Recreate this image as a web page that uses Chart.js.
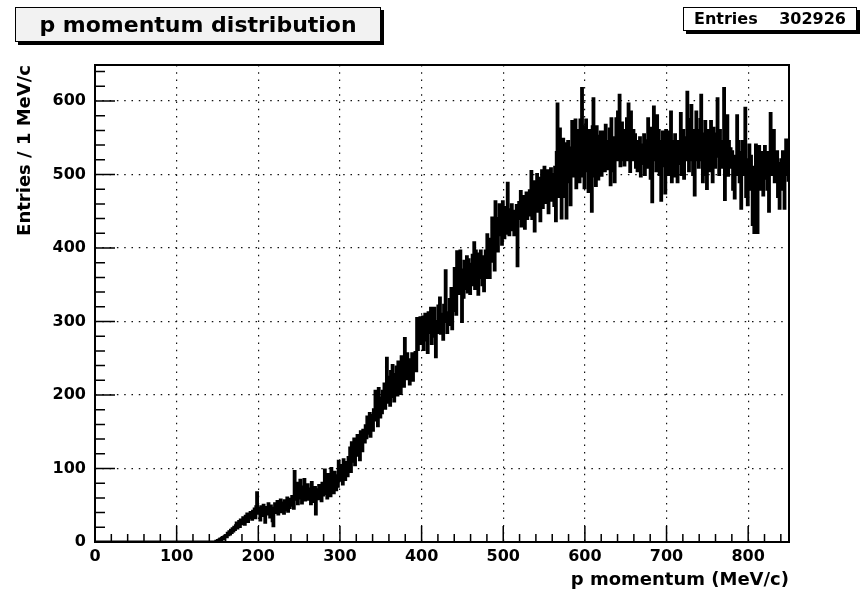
<!DOCTYPE html>
<html>
<head>
<meta charset="utf-8">
<title>p momentum distribution</title>
<script src="https://cdn.jsdelivr.net/npm/chart.js@4.4.1/dist/chart.umd.min.js"></script>
<style>
  html, body { margin: 0; padding: 0; background: #fff; }
  #wrap { position: relative; width: 865px; height: 595px; }
  #momChart { position: absolute; left: 0; top: 0; }
  .pave {
    position: absolute;
    box-sizing: border-box;
    border: 1px solid #000;
    box-shadow: 3px 3px 0 #000;
    font-family: "DejaVu Sans", sans-serif;
    font-weight: bold;
    color: #000;
  }
  #histTitle {
    left: 15px; top: 7px; width: 366px; height: 35px;
    background: #f2f2f2;
    font-size: 22px; line-height: 33px; text-align: center;
  }
  #statsBox {
    left: 683px; top: 7px; width: 174px; height: 24px;
    background: #fff;
    font-size: 16px; line-height: 22px;
    display: flex; justify-content: space-between;
    padding: 0 10px;
  }
</style>
</head>
<body>
<div id="wrap">
  <canvas id="momChart" width="865" height="595" style="width:865px;height:595px;"></canvas>
  <div class="pave" id="histTitle">p momentum distribution</div>
  <div class="pave" id="statsBox"><span>Entries</span><span id="entriesVal"></span></div>
</div>

<script>
// ---- histogram contents: 1 MeV/c bins from 0 to 850 ----
const binWidth = 1;
const entries = 302926;
const counts = [
  0, 0, 0, 0, 0, 0, 0, 0, 0, 0,
  0, 0, 0, 0, 0, 0, 0, 0, 0, 0,
  0, 0, 0, 0, 0, 0, 0, 0, 0, 0,
  0, 0, 0, 0, 0, 0, 0, 0, 0, 0,
  0, 0, 0, 0, 0, 0, 0, 0, 0, 0,
  0, 0, 0, 0, 0, 0, 0, 0, 0, 0,
  0, 0, 0, 0, 0, 0, 0, 0, 0, 0,
  0, 0, 0, 0, 0, 0, 0, 0, 0, 0,
  0, 0, 0, 0, 0, 0, 0, 0, 0, 0,
  0, 0, 0, 0, 0, 0, 0, 0, 0, 0,
  0, 0, 0, 0, 0, 0, 0, 0, 0, 0,
  0, 0, 0, 0, 0, 0, 0, 0, 0, 0,
  0, 0, 0, 0, 0, 0, 0, 0, 0, 0,
  0, 0, 0, 0, 0, 0, 0, 0, 0, 0,
  0, 0, 0, 0, 0, 0, 0, 0, 1, 1,
  // 150
  2, 1, 3, 4, 2, 5, 6, 4, 7, 8,
  9, 7, 12, 10, 14, 11, 16, 13, 18, 15,
  20, 17, 22, 26, 19, 24, 28, 21, 30, 25,
  27, 33, 29, 24, 35, 31, 38, 28, 36, 33,
  40, 34, 31, 42, 37, 45, 33, 48, 67, 44,
  // 200
  39, 46, 30, 48, 42, 36, 50, 44, 27, 47,
  45, 38, 52, 41, 34, 49, 43, 29, 22, 46,
  52, 40, 47, 55, 38, 50, 44, 57, 41, 53,
  48, 39, 56, 44, 51, 60, 42, 54, 47, 58,
  50, 62, 55, 46, 96, 64, 58, 80, 52, 71,
  // 250
  60, 84, 66, 53, 75, 62, 85, 57, 70, 64,
  78, 58, 72, 66, 52, 81, 63, 69, 55, 74,
  38, 65, 71, 59, 77, 62, 68, 56, 80, 64,
  72, 98, 66, 85, 60, 92, 70, 79, 63, 100,
  74, 88, 67, 95, 80, 71, 90, 76, 110, 84,
  // 300
  104, 88, 96, 79, 112, 93, 85, 108, 98, 90,
  115, 102, 128, 96, 135, 110, 122, 140, 105, 130,
  118, 145, 126, 138, 112, 150, 132, 124, 152, 140,
  136, 158, 142, 170, 148, 164, 175, 144, 160, 172,
  152, 180, 166, 205, 172, 190, 158, 209, 185, 170,
  // 350
  196, 176, 205, 188, 215, 182, 200, 250, 190, 224,
  210, 186, 232, 198, 240, 215, 192, 228, 205, 238,
  200, 245, 218, 230, 202, 252, 225, 240, 212, 277,
  238, 222, 256, 230, 248, 215, 245, 228, 256, 220,
  242, 236, 258, 233, 304, 262, 280, 295, 305, 270,
  // 400
  288, 306, 262, 298, 310, 275, 302, 258, 312, 285,
  296, 318, 270, 305, 280, 318, 290, 252, 300, 285,
  321, 296, 332, 284, 310, 298, 276, 322, 305, 369,
  300, 285, 312, 296, 330, 302, 345, 290, 330, 315,
  372, 345, 310, 395, 360, 338, 373, 396, 350, 300,
  // 450
  370, 333, 382, 356, 345, 388, 340, 384, 362, 338,
  378, 350, 390, 370, 407, 345, 396, 365, 380, 337,
  392, 360, 396, 375, 350, 388, 342, 370, 396, 360,
  418, 375, 398, 360, 412, 382, 441, 395, 420, 370,
  463, 410, 440, 396, 430, 459, 418, 445, 405, 463,
  // 500
  430, 414, 455, 420, 448, 488, 430, 418, 452, 440,
  459, 425, 445, 418, 450, 436, 458, 376, 440, 462,
  448, 477, 430, 460, 435, 470, 427, 455, 475, 440,
  463, 445, 478, 458, 504, 440, 470, 490, 423, 485,
  462, 500, 450, 478, 495, 437, 472, 505, 455, 480,
  // 550
  510, 462, 490, 470, 505, 448, 495, 478, 508, 465,
  488, 500, 458, 510, 437, 530, 596, 470, 545, 562,
  498, 441, 530, 548, 510, 470, 542, 441, 520, 545,
  490, 525, 459, 536, 572, 498, 545, 508, 574, 482,
  540, 505, 560, 490, 574, 520, 617, 498, 565, 482,
  // 600
  548, 574, 505, 530, 477, 560, 520, 536, 450, 565,
  603, 498, 540, 485, 565, 530, 494, 552, 510, 558,
  499, 540, 520, 558, 505, 567, 536, 508, 545, 520,
  562, 486, 576, 530, 505, 550, 490, 540, 576, 520,
  585, 530, 608, 512, 550, 570, 520, 560, 513, 545,
  // 650
  535, 576, 520, 596, 550, 504, 585, 540, 520, 560,
  530, 554, 510, 545, 505, 538, 520, 550, 498, 532,
  540, 515, 554, 500, 525, 546, 510, 576, 530, 520,
  495, 563, 463, 540, 592, 520, 555, 505, 580, 530,
  560, 500, 545, 465, 530, 558, 512, 540, 475, 560,
  // 700
  525, 558, 500, 540, 510, 585, 490, 545, 520, 498,
  554, 505, 530, 490, 545, 515, 540, 583, 500, 548,
  560, 495, 540, 520, 550, 612, 530, 505, 575, 520,
  594, 540, 500, 560, 472, 545, 585, 520, 560, 510,
  540, 575, 608, 520, 490, 555, 530, 572, 500, 481,
  // 750
  560, 520, 545, 505, 572, 530, 490, 563, 540, 510,
  555, 525, 603, 540, 500, 560, 520, 545, 510, 530,
  617, 466, 550, 520, 580, 499, 545, 510, 535, 520,
  531, 480, 515, 468, 525, 500, 580, 520, 545, 490,
  530, 454, 520, 545, 500, 540, 590, 470, 520, 459,
  // 800
  515, 540, 480, 525, 500, 432, 510, 421, 500, 540,
  520, 421, 505, 538, 480, 515, 500, 530, 472, 520,
  538, 495, 510, 480, 530, 450, 520, 583, 500, 540,
  510, 560, 490, 525, 505, 531, 470, 515, 454, 500,
  520, 480, 531, 505, 454, 520, 547, 500, 520, 490
];

// axis ranges and tick spacing
const xRange = [0, 850];
const yRange = [0, 649];
const xMajorStep = 100, xMinorStep = 20;
const yMajorStep = 100, yMinorStep = 20;

document.getElementById("entriesVal").textContent = entries;

const tickFont = { family: "'DejaVu Sans', sans-serif", size: 16, weight: "bold" };
const titleFont = { family: "'DejaVu Sans', sans-serif", size: 18, weight: "bold" };

// dotted grid, but none on the axis line itself
const gridColor = (c) => (c.tick && c.tick.value === 0 ? "rgba(0,0,0,0)" : "#111");

// ROOT-style frame with ticks pointing into the plot
const frameAndTicks = {
  id: "frameAndTicks",
  afterDraw(chart) {
    const { ctx, chartArea: a, scales } = chart;
    const x = scales.x, y = scales.y;
    ctx.save();
    ctx.strokeStyle = "#000";

    ctx.lineWidth = 2;
    ctx.strokeRect(a.left, a.top, a.right - a.left, a.bottom - a.top);

    ctx.lineWidth = 1.5;
    ctx.beginPath();
    for (let v = xRange[0]; v <= xRange[1]; v += xMinorStep) {
      const px = x.getPixelForValue(v);
      const len = v % xMajorStep === 0 ? 16 : 8;
      ctx.moveTo(px, a.bottom);
      ctx.lineTo(px, a.bottom - len);
    }
    for (let v = yRange[0]; v <= yRange[1]; v += yMinorStep) {
      const py = y.getPixelForValue(v);
      const len = v % yMajorStep === 0 ? 20 : 10;
      ctx.moveTo(a.left, py);
      ctx.lineTo(a.left + len, py);
    }
    ctx.stroke();
    ctx.restore();
  },
};

// each point sits on the low edge of its bin; stepped line draws the bin top
const points = counts.map((v, i) => ({ x: xRange[0] + i * binWidth, y: v }));

new Chart(document.getElementById("momChart"), {
  type: "line",
  data: {
    datasets: [
      {
        label: "p momentum",
        data: points,
        stepped: "before",
        borderColor: "#000",
        borderWidth: 3,
        pointRadius: 0,
        fill: false,
      },
    ],
  },
  options: {
    responsive: false,
    animation: false,
    events: [],
    layout: { padding: { left: 0, right: 76, top: 65, bottom: 0 } },
    plugins: {
      legend: { display: false },
      tooltip: { enabled: false },
    },
    scales: {
      x: {
        type: "linear",
        min: xRange[0],
        max: xRange[1],
        afterFit: (scale) => {
          scale.height = 53;
        },
        ticks: {
          stepSize: xMajorStep,
          includeBounds: false,
          maxRotation: 0,
          autoSkip: false,
          color: "#000",
          font: tickFont,
          padding: 5,
        },
        grid: { drawTicks: false, color: gridColor, lineWidth: 1.2 },
        border: { display: false, dash: [1.5, 5.8] },
        title: {
          display: true,
          text: "p momentum (MeV/c)",
          align: "end",
          color: "#000",
          font: titleFont,
          padding: { top: 0, bottom: 4 },
        },
      },
      y: {
        type: "linear",
        min: yRange[0],
        max: yRange[1],
        afterFit: (scale) => {
          scale.width = 95;
        },
        ticks: {
          stepSize: yMajorStep,
          includeBounds: false,
          color: "#000",
          font: tickFont,
          padding: 9,
        },
        grid: { drawTicks: false, color: gridColor, lineWidth: 1.2 },
        border: { display: false, dash: [1.5, 5.8] },
        title: {
          display: true,
          text: "Entries / 1 MeV/c",
          align: "end",
          color: "#000",
          font: titleFont,
          padding: { top: 15, bottom: 0 },
        },
      },
    },
  },
  plugins: [frameAndTicks],
});
</script>
</body>
</html>
